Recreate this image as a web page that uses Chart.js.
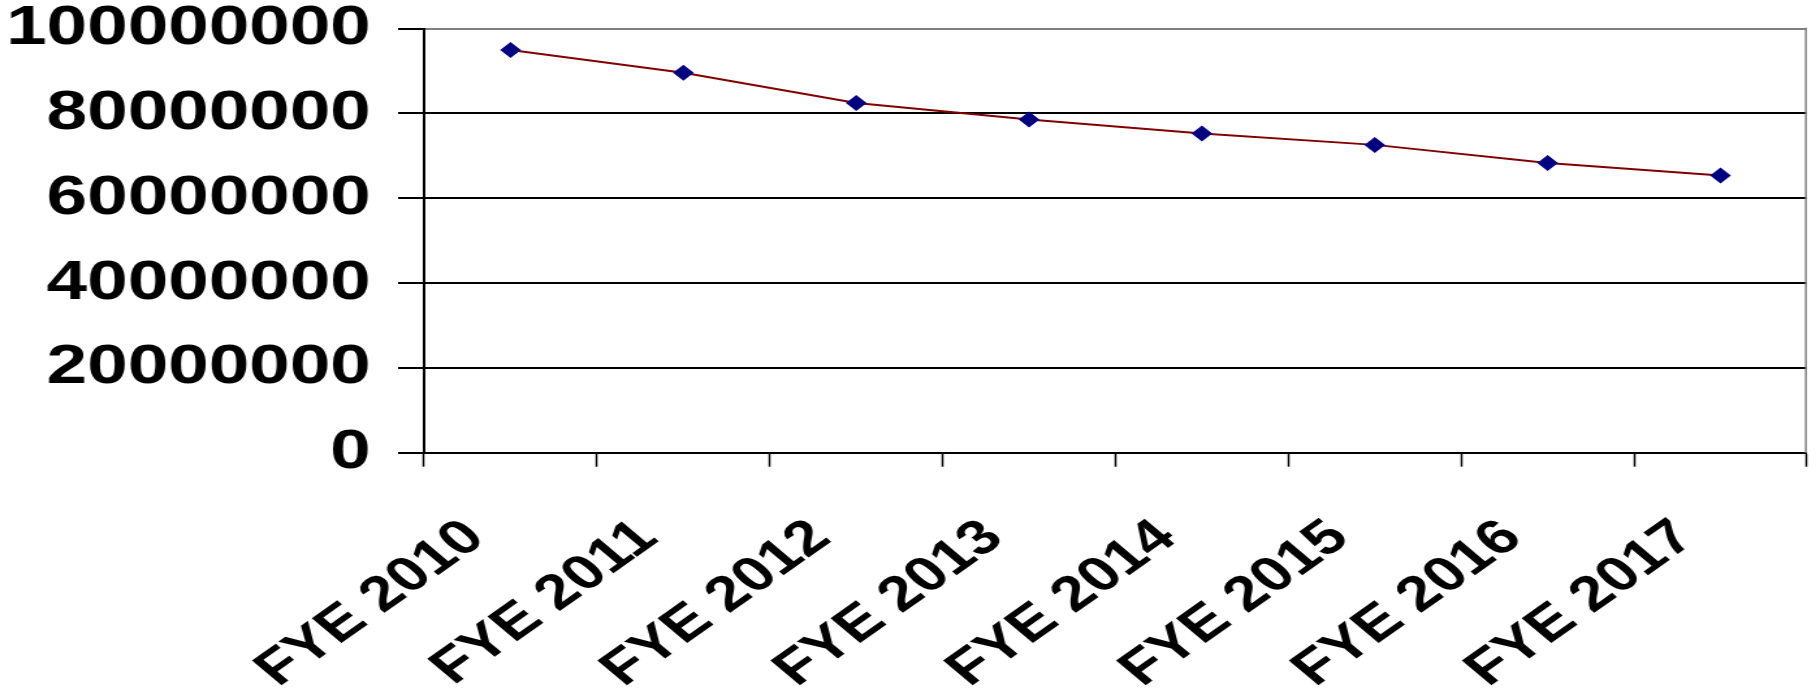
<!DOCTYPE html>
<html>
<head>
<meta charset="utf-8">
<script src="https://cdn.jsdelivr.net/npm/chart.js@4/dist/chart.umd.min.js"></script>
<style>
  html, body { margin: 0; padding: 0; background: #fff; overflow: hidden; }
  /* the chart is laid out narrow and widened horizontally */
  #wrap {
    position: absolute; left: 0; top: 0;
    width: 1396.9px; height: 690px;
    transform: scaleX(1.3); transform-origin: 0 0;
  }
</style>
</head>
<body>
<div id="wrap"><canvas id="c"></canvas></div>
<script>
const categories = ['FYE 2010', 'FYE 2011', 'FYE 2012', 'FYE 2013', 'FYE 2014', 'FYE 2015', 'FYE 2016', 'FYE 2017'];
const values = [95000000, 89600000, 82500000, 78600000, 75300000, 72600000, 68300000, 65400000];
const yTickValues = [0, 20000000, 40000000, 60000000, 80000000, 100000000];

const FONT = "'Liberation Sans', Arial, sans-serif";

// grey frame on the right side of the plot area
const rightFrame = {
  id: 'rightFrame',
  afterDraw(chart) {
    const { ctx, chartArea } = chart;
    ctx.save();
    ctx.strokeStyle = '#808080';
    ctx.lineWidth = 1.5;
    ctx.beginPath();
    ctx.moveTo(chartArea.right - 0.75, chartArea.top - 1);
    ctx.lineTo(chartArea.right - 0.75, chartArea.bottom);
    ctx.stroke();
    ctx.restore();
  }
};

new Chart(document.getElementById('c'), {
  type: 'line',
  data: {
    labels: categories,
    datasets: [{
      data: values,
      borderColor: '#800000',
      borderWidth: 2,
      backgroundColor: '#000080',
      pointBackgroundColor: '#000080',
      pointBorderColor: '#000080',
      pointBorderWidth: 0,
      pointStyle: 'rectRot',
      pointRadius: 8,
      pointHoverRadius: 8,
      tension: 0,
      fill: false
    }]
  },
  options: {
    responsive: true,
    maintainAspectRatio: false,
    animation: false,
    devicePixelRatio: 1,
    layout: { padding: { left: 0, right: 8, top: 28.7, bottom: 0 } },
    plugins: { legend: { display: false }, tooltip: { enabled: false }, title: { display: false } },
    scales: {
      x: {
        type: 'category',
        offset: true,
        grid: {
          offset: true,
          drawOnChartArea: false,
          drawTicks: true,
          tickLength: 14,
          tickWidth: 1.5,
          tickColor: '#000'
        },
        border: { display: true, color: '#000', width: 2 },
        ticks: {
          autoSkip: false,
          minRotation: 42.5,
          maxRotation: 42.5,
          padding: 42,
          labelOffset: -27,
          color: '#000',
          font: { family: FONT, size: 49, weight: 'bold', lineHeight: 1.2 }
        },
        afterFit(scale) {
          scale.height = 690 - 452.7;
          scale.paddingLeft = 0;
          scale.paddingRight = 0;
        }
      },
      y: {
        min: 0,
        max: 100000000,
        afterBuildTicks(scale) { scale.ticks = yTickValues.map(v => ({ value: v })); },
        grid: {
          color: ctx => (ctx.tick && ctx.tick.value === 100000000) ? '#808080' : '#000',
          lineWidth: 2,
          tickColor: '#000',
          tickLength: 20,
          tickWidth: 2
        },
        border: { display: true, color: '#000', width: 2 },
        ticks: {
          padding: 21,
          color: '#000',
          font: { family: FONT, size: 56, weight: 'bold', lineHeight: 1 },
          callback: v => String(v)
        },
        afterFit(scale) {
          scale.width = 326;
          scale.paddingTop = 0;
          scale.paddingBottom = 0;
        }
      }
    }
  },
  plugins: [rightFrame]
});
</script>
</body>
</html>
